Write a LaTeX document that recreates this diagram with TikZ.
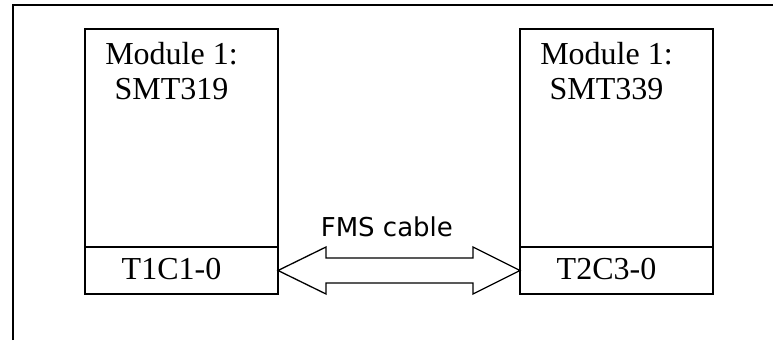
\documentclass[tikz,border=0pt]{standalone}
\usepackage{fontspec}
\setmainfont{Liberation Serif}
\newfontfamily\cablefont{DejaVu Sans}
\usetikzlibrary{calc, positioning}

\begin{document}
\begin{tikzpicture}[x=1pt, y=1pt,
    modbox/.style={draw, line width=1.8pt, outer sep=0pt, inner sep=0pt,
                   minimum width=193, minimum height=218},
    portbox/.style={draw, line width=1.8pt, outer sep=0pt, inner sep=0pt,
                   minimum width=193, minimum height=47},
    modtext/.style={inner sep=0pt, align=center, font={\fontsize{32}{35}\selectfont}},
    cable/.style={line width=1.3pt, line join=miter},
    cablelbl/.style={inner sep=0pt, font={\cablefont\fontsize{26}{30}\selectfont}}]

    \useasboundingbox (0,0) rectangle (773,340);

    % =================================================================
    % KHUNG NGOAI
    % =================================================================
    \coordinate (F_bl) at (13,0);
    \coordinate (F_tl) at (13,335);
    \coordinate (F_tr) at (773,335);
    \draw[line width=1.8pt] (F_bl) -- (F_tl) -- (F_tr);

    % =================================================================
    % HAI MODULE
    % =================================================================
    % Module ben trai
    \node[modbox] (mod1) at (181.5,202) {};
    \node[portbox, below=0pt of mod1] (port1) {};

    % Module ben phai
    \node[modbox, right=242pt of mod1] (mod2) {};
    \node[portbox, below=0pt of mod2] (port2) {};

    % Chu trong cac module
    \node[modtext, anchor=north] (title1) at ($(mod1.north)+(-10,-13)$) {Module 1:\\SMT319};
    \node[modtext, anchor=north] (title2) at ($(mod2.north)+(-10,-13)$) {Module 1:\\SMT339};
    \node[modtext, anchor=base] (plbl1) at ($(port1.south)+(-10,14)$) {T1C1-0};
    \node[modtext, anchor=base] (plbl2) at ($(port2.south)+(-10,14)$) {T2C3-0};

    % =================================================================
    % MUI TEN HAI DAU (CAP FMS)
    % =================================================================
    \draw[cable] (port1.east) -- ++(48,23.5) -- ++(0,-11)
        -- ($(port2.west)+(-47,12.5)$) -- ++(0,11) -- (port2.west)
        -- ++(-47,-23.5) -- ++(0,11)
        -- ($(port1.east)+(48,-12.5)$) -- ++(0,-11) -- cycle;
    \node[cablelbl, anchor=base] (cablename) at ($(port1.east)!0.45!(port2.west)+(0,34)$) {FMS cable};

\end{tikzpicture}
\end{document}
